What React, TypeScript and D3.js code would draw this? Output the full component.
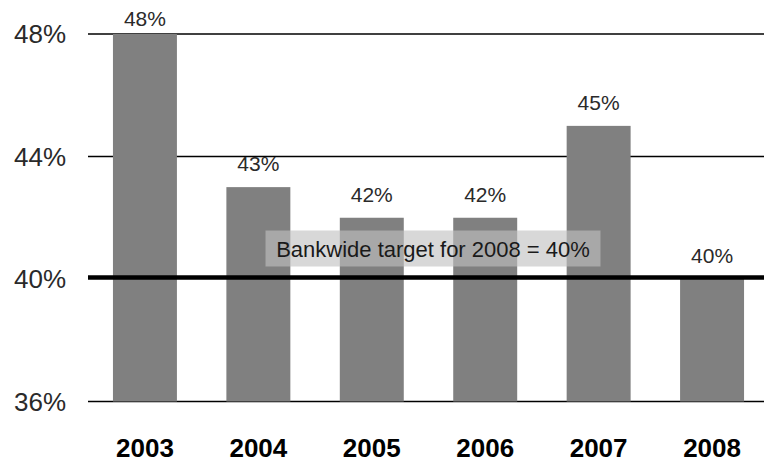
import React from "react";
import * as d3 from "d3";

const categories = ["2003", "2004", "2005", "2006", "2007", "2008"];
const values = [48, 43, 42, 42, 45, 40];
const yTicks = [36, 40, 44, 48];
const targetValue = 40;
const targetLabel = "Bankwide target for 2008 = 40%";

const W = 764;
const H = 464;
const FONT = "'Liberation Sans', Arial, sans-serif";

export default function App() {
  const x = d3
    .scaleBand<string>()
    .domain(categories)
    .range([88, 769])
    .paddingInner(0.436)
    .paddingOuter(0.22);
  const y = d3.scaleLinear().domain([36, 48]).range([401.5, 34]);
  const bw = x.bandwidth();

  const boxW = 335;
  const boxH = 36;
  const boxCx = 433;
  const boxBottom = y(targetValue) - 12.5;

  return (
    <div style={{ position: "absolute", left: 0, top: 0 }}>
      <svg width={W} height={H} style={{ display: "block", background: "#fff" }}>
        {/* thin gridlines */}
        {yTicks
          .filter((t) => t !== targetValue)
          .map((t) => (
            <line key={t} x1={88} x2={W} y1={y(t)} y2={y(t)} stroke="#000" strokeWidth={1.3} />
          ))}
        {/* y tick labels */}
        {yTicks.map((t) => (
          <text
            key={"l" + t}
            x={66}
            y={y(t)}
            dy="0.35em"
            textAnchor="end"
            fontFamily={FONT}
            fontSize={26}
            fill="#2a2a2a"
          >
            {t}%
          </text>
        ))}
        {/* bars */}
        {categories.map((c, i) => (
          <rect
            key={c}
            x={x(c)}
            y={y(values[i])}
            width={bw}
            height={y(36) - y(values[i])}
            fill="#808080"
          />
        ))}
        {/* value labels */}
        {categories.map((c, i) => (
          <text
            key={"v" + c}
            x={(x(c) as number) + bw / 2}
            y={Math.max(y(values[i]) - 16, 26)}
            textAnchor="middle"
            fontFamily={FONT}
            fontSize={21}
            fill="#2a2a2a"
          >
            {values[i]}%
          </text>
        ))}
        {/* target line */}
        <line x1={88} x2={W} y1={y(targetValue) - 1.5} y2={y(targetValue) - 1.5} stroke="#000" strokeWidth={4.5} />
        {/* annotation box */}
        <rect
          x={boxCx - boxW / 2}
          y={boxBottom - boxH}
          width={boxW}
          height={boxH}
          fill="#c0c0c0"
          fillOpacity={0.62}
        />
        <text
          x={boxCx}
          y={boxBottom - 9.5}
          textAnchor="middle"
          fontFamily={FONT}
          fontSize={22}
          fill="#1a1a1a"
        >
          {targetLabel}
        </text>
        {/* x labels */}
        {categories.map((c) => (
          <text
            key={"x" + c}
            x={(x(c) as number) + bw / 2}
            y={457}
            textAnchor="middle"
            fontFamily={FONT}
            fontWeight="bold"
            fontSize={26}
            fill="#000"
          >
            {c}
          </text>
        ))}
      </svg>
    </div>
  );
}
